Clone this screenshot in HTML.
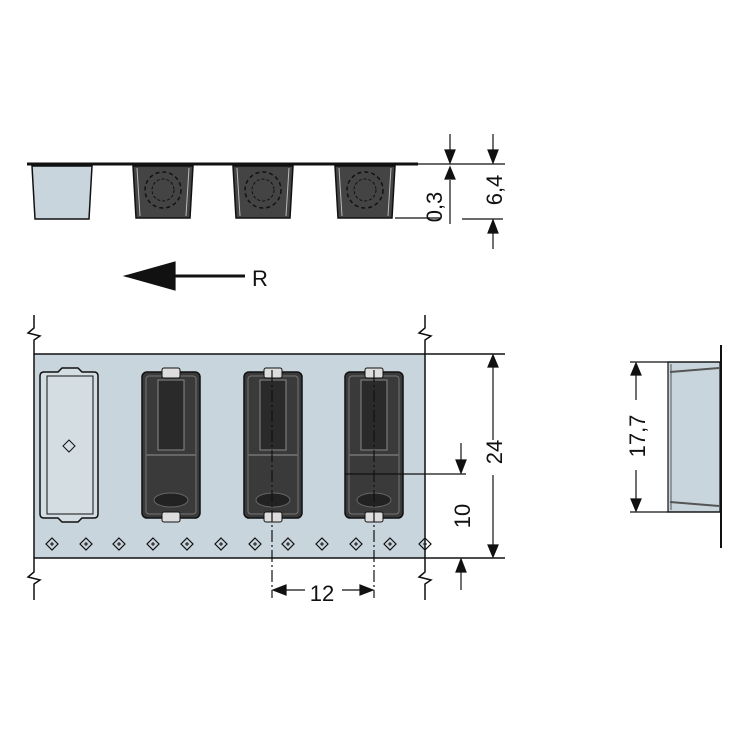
<!DOCTYPE html>
<html><head><style>body{margin:0;background:#fff}svg{display:block}text{font-family:"Liberation Sans",sans-serif;fill:#111}</style></head><body>
<svg width="750" height="750" viewBox="0 0 750 750" xmlns="http://www.w3.org/2000/svg">
<defs>
<g id="dk">
<rect x="0" y="0" width="58" height="146" rx="5" fill="#3a3a3a" stroke="#111" stroke-width="1.5"/>
<rect x="4" y="4" width="50" height="138" rx="3" fill="none" stroke="#777" stroke-width="1"/>
<rect x="16" y="8" width="26" height="70" fill="#2a2a2a" stroke="#888" stroke-width="1"/>
<rect x="20" y="-4" width="18" height="10" rx="2" fill="#ddd" stroke="#111"/>
<rect x="20" y="140" width="18" height="10" rx="2" fill="#ddd" stroke="#111"/>
<rect x="4" y="82" width="50" height="2" fill="#666"/>
<ellipse cx="29" cy="128" rx="17" ry="7" fill="#222" stroke="#666"/>
</g>
<g id="tp">
<path d="M0 0 L60 0 L57 52 L3 52 Z" fill="#444" stroke="#111" stroke-width="1.5"/>
<circle cx="30" cy="24" r="18" fill="none" stroke="#111" stroke-width="1.5" stroke-dasharray="4 3"/>
<circle cx="30" cy="24" r="11" fill="none" stroke="#111" stroke-width="1" stroke-dasharray="3 2"/>
<path d="M4 2 L7 50 M56 2 L53 50" stroke="#bbb" stroke-width="1"/>
</g>
<g id="hole"><path d="M0 -6 L6 0 L0 6 L-6 0 Z" fill="none" stroke="#111" stroke-width="1.2"/><path d="M-2 0 H2 M0 -2 V2" stroke="#111"/></g>
</defs>
<line x1="27" y1="164" x2="418" y2="164" stroke="#111" stroke-width="3"/>
<path d="M32 166 L92 166 L89 219 L35 219 Z" fill="#c9d5dc" stroke="#111" stroke-width="1.5"/>
<use href="#tp" x="133" y="166"/><use href="#tp" x="233" y="166"/><use href="#tp" x="335" y="166"/>
<g stroke="#111" stroke-width="1.2" fill="#111">
<line x1="418" y1="164" x2="505" y2="164"/>
<line x1="395" y1="218" x2="440" y2="218"/>
<line x1="462" y1="219" x2="503" y2="219"/>
<line x1="450" y1="134" x2="450" y2="155"/><path d="M445 150 L455 150 L450 163 Z"/>
<line x1="450" y1="180" x2="450" y2="224"/><path d="M445 179 L455 179 L450 167 Z"/>
<line x1="493" y1="134" x2="493" y2="155"/><path d="M488 150 L498 150 L493 163 Z"/>
<line x1="493" y1="232" x2="493" y2="249"/><path d="M488 233 L498 233 L493 220 Z"/>
<line x1="170" y1="276" x2="245" y2="276" stroke-width="3"/><path d="M125 276 L175 262 L175 290 Z"/>
</g>
<text x="252" y="286" font-size="22">R</text>
<text transform="translate(442,207) rotate(-90)" font-size="22" text-anchor="middle">0,3</text>
<text transform="translate(502,190) rotate(-90)" font-size="22" text-anchor="middle">6,4</text>
<rect x="34" y="354" width="391" height="204" fill="#c9d5dc"/>
<g stroke="#111" stroke-width="1.5" fill="none">
<line x1="34" y1="354" x2="505" y2="354"/><line x1="34" y1="558" x2="505" y2="558"/>
<path d="M34 315 V328 L28 333 L40 336 L34 340 V354"/>
<path d="M425 315 V328 L419 333 L431 336 L425 340 V558"/>
<path d="M34 558 V572 L28 577 L40 580 L34 584 V600"/>
<path d="M425 558 V572 L419 577 L431 580 L425 584 V600"/>
<line x1="34" y1="354" x2="34" y2="558"/>
<path d="M44 372 H58 L62 368 H78 L82 372 H94 Q98 372 98 376 V514 Q98 518 94 518 H82 L78 522 H62 L58 518 H44 Q40 518 40 514 V376 Q40 372 44 372 Z" fill="#d3dde2"/>
<path d="M47 376 H93 V514 H47 Z" stroke-width="1"/>
<path d="M69 440 L75 446 L69 452 L63 446 Z" stroke-width="1"/>
</g>
<use href="#dk" x="142" y="372"/><use href="#dk" x="244" y="372"/><use href="#dk" x="345" y="372"/>
<use href="#hole" x="52" y="544"/><use href="#hole" x="86" y="544"/><use href="#hole" x="119" y="544"/><use href="#hole" x="153" y="544"/><use href="#hole" x="187" y="544"/><use href="#hole" x="221" y="544"/><use href="#hole" x="255" y="544"/><use href="#hole" x="288" y="544"/><use href="#hole" x="322" y="544"/><use href="#hole" x="356" y="544"/><use href="#hole" x="390" y="544"/><use href="#hole" x="425" y="544"/>
<g stroke="#111" stroke-width="1.2" fill="#111">
<line x1="272" y1="370" x2="272" y2="598" stroke-dasharray="12 3 2 3"/>
<line x1="374" y1="370" x2="374" y2="598" stroke-dasharray="12 3 2 3"/>
<line x1="284" y1="590" x2="305" y2="590"/><path d="M273 590 L286 585 L286 595 Z"/>
<line x1="342" y1="590" x2="362" y2="590"/><path d="M373 590 L360 585 L360 595 Z"/>
<line x1="493" y1="366" x2="493" y2="440"/><path d="M488 367 L498 367 L493 355 Z"/>
<line x1="493" y1="475" x2="493" y2="546"/><path d="M488 545 L498 545 L493 557 Z"/>
<line x1="345" y1="474" x2="466" y2="474"/>
<line x1="461" y1="443" x2="461" y2="462"/><path d="M456 460 L466 460 L461 473 Z"/>
<line x1="461" y1="571" x2="461" y2="590"/><path d="M456 572 L466 572 L461 559 Z"/>
</g>
<text x="322" y="601" font-size="22" text-anchor="middle">12</text>
<text transform="translate(502,452) rotate(-90)" font-size="22" text-anchor="middle">24</text>
<text transform="translate(470,516) rotate(-90)" font-size="22" text-anchor="middle">10</text>
<path d="M668 362 L720 362 L720 512 L668 512 Z" fill="#c9d5dc" stroke="#111" stroke-width="1.2"/>
<line x1="671" y1="364" x2="671" y2="510" stroke="#555" stroke-width="1"/>
<path d="M670 372 L719 368 M670 502 L719 506" stroke="#555" stroke-width="2"/>
<line x1="721" y1="345" x2="721" y2="548" stroke="#111" stroke-width="2"/>
<g stroke="#111" stroke-width="1.2" fill="#111">
<line x1="630" y1="362" x2="720" y2="362"/><line x1="630" y1="512" x2="720" y2="512"/>
<line x1="636" y1="374" x2="636" y2="400"/><path d="M631 375 L641 375 L636 363 Z"/>
<line x1="636" y1="470" x2="636" y2="500"/><path d="M631 499 L641 499 L636 511 Z"/>
</g>
<text transform="translate(645,436) rotate(-90)" font-size="22" text-anchor="middle">17,7</text>
</svg>
</body></html>
